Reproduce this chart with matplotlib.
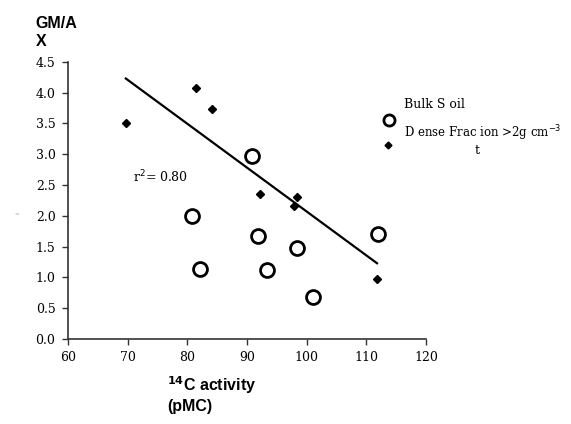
import matplotlib
matplotlib.use("Agg")
import matplotlib.pyplot as plt

# Bulk soil (open circles)
bulk_x = [90.9, 80.8, 82.1, 91.9, 93.4, 98.4, 101.1, 112.0]
bulk_y = [2.97, 2.00, 1.13, 1.68, 1.12, 1.48, 0.69, 1.71]

# Dense fraction (filled diamonds)
dense_x = [69.7, 81.5, 84.2, 92.2, 98.4, 97.9, 111.8]
dense_y = [3.50, 4.07, 3.74, 2.36, 2.31, 2.16, 0.97]

# regression line end points
fit_x = [69.7, 111.8]
fit_y = [4.23, 1.23]

xticks = [60, 70, 80, 90, 100, 110, 120]
yticks = [0.0, 0.5, 1.0, 1.5, 2.0, 2.5, 3.0, 3.5, 4.0, 4.5]

serif = "DejaVu Serif"
sans = "Liberation Sans"

fig = plt.figure(figsize=(5.71, 4.24), dpi=100)
ax = fig.add_axes([0.119, 0.2005, 0.627, 0.6535])

ax.plot(fit_x, fit_y, color="black", lw=1.6)
ax.plot(bulk_x, bulk_y, ls="none", marker="o", ms=10, mfc="white",
        mec="black", mew=2.0)
ax.plot(dense_x, dense_y, ls="none", marker="D", ms=4.5, color="black")

ax.set_xlim(60, 120)
ax.set_ylim(0, 4.5)
ax.set_xticks(xticks)
ax.set_yticks(yticks)
ax.set_xticklabels([str(v) for v in xticks], fontfamily=serif, fontsize=9)
ax.set_yticklabels([f"{v:.1f}" for v in yticks], fontfamily=serif, fontsize=9)
ax.tick_params(direction="out", length=4, width=1, color="#333333", pad=5)
for s in ["top", "right"]:
    ax.spines[s].set_visible(False)
for s in ["left", "bottom"]:
    ax.spines[s].set_linewidth(1.2)
    ax.spines[s].set_color("#333333")

# overlay axes in figure pixels (origin top-left) for free text and legend
H = 424
ov = fig.add_axes([0, 0, 1, 1], facecolor="none")
ov.set_xlim(0, 571)
ov.set_ylim(H, 0)
ov.axis("off")

ov.text(133, 177, r"r$^2$= 0.80", fontfamily=serif, fontsize=9, va="center")

ov.text(35, 24, "GM/A", fontweight="bold", fontsize=11.5, fontfamily=sans, va="center")
ov.text(36, 42, "X", fontweight="bold", fontsize=11.5, fontfamily=sans, va="center")
ov.text(14, 215, "=", fontsize=4, color="#aaaaaa", va="center")
ov.text(167, 385, r"$^{\mathbf{14}}$C activity", fontweight="bold", fontsize=11.5,
        fontfamily=sans, va="center")
ov.text(167, 406, "(pMC)", fontweight="bold", fontsize=11.5,
        fontfamily=sans, va="center")

# legend drawn by hand
ov.plot([389], [120], ls="none", marker="o", ms=8, mfc="white", mec="black", mew=2.0)
ov.plot([388], [145], ls="none", marker="D", ms=3.5, color="black")
ov.text(404, 104, "Bulk S oil", fontfamily=serif, fontsize=9, va="center")
ov.text(404, 133, "D ense Frac ion >2g cm$^{-3}$", fontfamily=serif, fontsize=8.5, va="center")
ov.text(475, 150, "t", fontfamily=serif, fontsize=9, va="center")

fig.savefig("out.png", dpi=100)
